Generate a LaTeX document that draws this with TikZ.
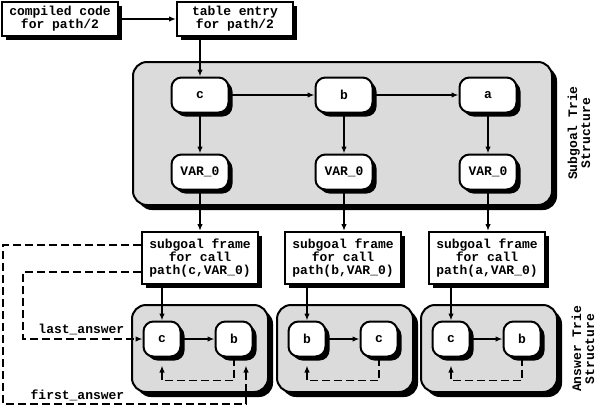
\documentclass[tikz,border=0pt]{standalone}
\usepackage{fontspec}
\newfontfamily\courbf{Liberation Mono}
\usetikzlibrary{positioning,shadows,arrows.meta}

\begin{document}
\begin{tikzpicture}
        [x=1pt,y=-1pt,line width=1.4pt,>={Latex[length=7pt,width=5.5pt]},
         font=\courbf\bfseries\fontsize{13}{13}\selectfont,
         shade/.style={drop shadow={shadow xshift=4pt,shadow yshift=-4pt,fill=black,opacity=1}},
         textbox/.style={draw,fill=white,line width=2pt,shade,align=center,minimum width=116pt,inner sep=2pt},
         trienode/.style={draw,fill=white,line width=2pt,rounded corners=10pt,shade,minimum height=35pt,inner sep=2pt},
         triebg/.style={draw,fill=gray!28,line width=2pt,rounded corners=14pt,
                        drop shadow={shadow xshift=5pt,shadow yshift=-5pt,fill=black,opacity=1}},
         pointer/.style={line width=1.6pt,dash pattern=on 8pt off 4pt,->},
         sidelabel/.style={rotate=90,align=center}]

        \useasboundingbox (0,0) rectangle (599,410);

        \path[triebg] (133,62) rectangle (552,205);
        \path[triebg] (132,305) rectangle (268,392);
        \path[triebg] (277,305) rectangle (413,392);
        \path[triebg] (421,305) rectangle (557,392);

        \node[textbox,minimum height=34pt] (code) at (60,19) {compiled code\\for path/2};
        \node[textbox,minimum height=34pt] (entry) at (235,19) {table entry\\for path/2};

        \node[trienode,minimum width=57pt] (sc) at (200,95) {c};
        \node[trienode,minimum width=57pt] (sb) at (344,95) {b};
        \node[trienode,minimum width=57pt] (sa) at (488,95) {a};
        \node[trienode,minimum width=57pt] (vc) at (200,172) {VAR\_0};
        \node[trienode,minimum width=57pt] (vb) at (344,172) {VAR\_0};
        \node[trienode,minimum width=57pt] (va) at (488,172) {VAR\_0};

        \node[textbox,minimum height=52pt] (f1) at (200,258) {subgoal frame\\for call\\path(c,VAR\_0)};
        \node[textbox,minimum height=52pt] (f2) at (343,258) {subgoal frame\\for call\\path(b,VAR\_0)};
        \node[textbox,minimum height=52pt] (f3) at (487,258) {subgoal frame\\for call\\path(a,VAR\_0)};

        \node[trienode,minimum width=37pt] (a1c) at (162,339) {c};
        \node[trienode,minimum width=37pt] (a1b) at (234,339) {b};
        \node[trienode,minimum width=37pt] (a2b) at (307,339) {b};
        \node[trienode,minimum width=37pt] (a2c) at (379,339) {c};
        \node[trienode,minimum width=37pt] (a3c) at (451,339) {c};
        \node[trienode,minimum width=37pt] (a3b) at (522,339) {b};

        \draw[->] (code) -- (entry);
        \draw[->] (entry.south -| sc.north) -- (sc);
        \draw[->] (sc) -- (sb);
        \draw[->] (sb) -- (sa);
        \draw[->] (sc) -- (vc);
        \draw[->] (sb) -- (vb);
        \draw[->] (sa) -- (va);
        \draw[->] (vc) -- (vc |- f1.north);
        \draw[->] (vb) -- (vb |- f2.north);
        \draw[->] (va) -- (va |- f3.north);

        \draw[->] (f1.south -| a1c) -- (a1c);
        \draw[->] (f2.south -| a2b) -- (a2b);
        \draw[->] (f3.south -| a3c) -- (a3c);
        \draw[->] (a1c) -- (a1b);
        \draw[->] (a2b) -- (a2c);
        \draw[->] (a3c) -- (a3b);

        \draw[pointer] (a1b.south) -- ++(0,23) -| ([yshift=-8pt]a1c.south);
        \draw[pointer] (a2c.south) -- ++(0,23) -| ([yshift=-8pt]a2b.south);
        \draw[pointer] (a3b.south) -- ++(0,23) -| ([yshift=-8pt]a3c.south);

        \draw[pointer] ([yshift=-14pt]f1.west) -| (23,339) -- (a1c);
        \draw[pointer] ([yshift=13pt]f1.west) -| (3,404) -| ([xshift=12pt,yshift=-8pt]a1b.south);
        \node[anchor=base east,inner sep=0pt] (last) at (125,333) {last\_answer};
        \node[anchor=base east,inner sep=0pt] (first) at (125,399) {first\_answer};

        \node[sidelabel] (stlabel) at (579,133) {Subgoal Trie\\Structure};
        \node[sidelabel] (atlabel) at (583,349) {Answer Trie\\Structure};

    \end{tikzpicture}
\end{document}
